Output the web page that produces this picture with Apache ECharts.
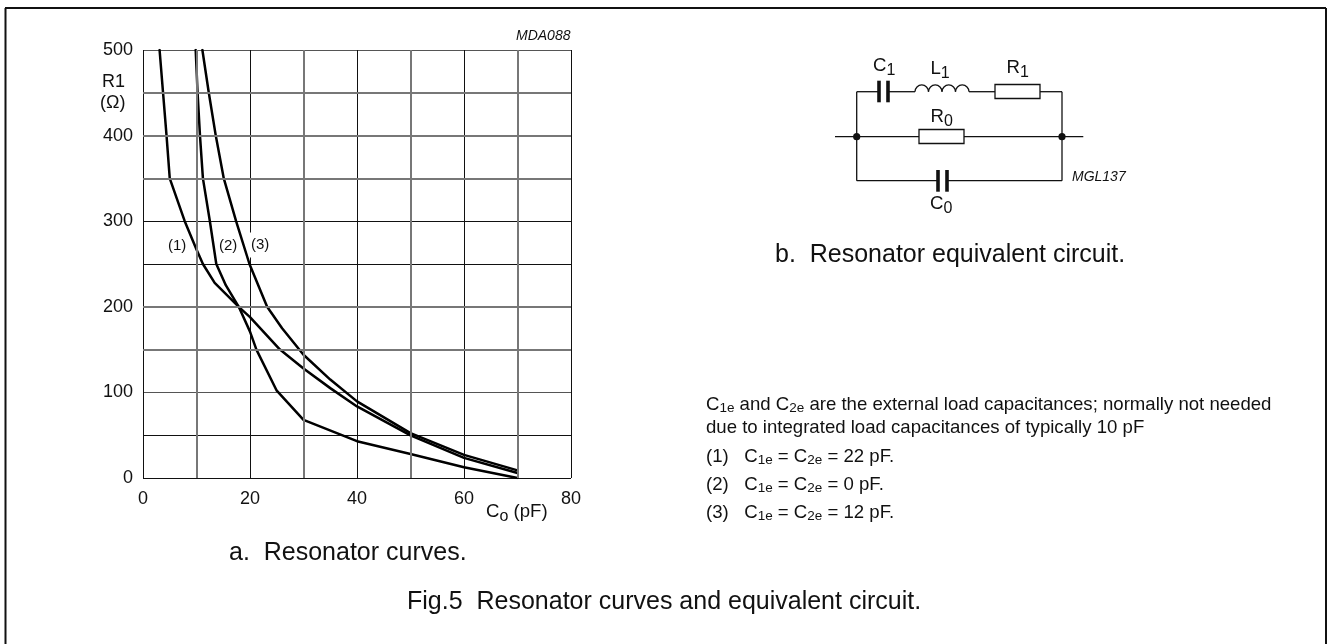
<!DOCTYPE html>
<html>
<head>
<meta charset="utf-8">
<style>
  html, body { margin: 0; padding: 0; background: #fff; }
  #chart { width: 1327px; height: 644px; }
</style>
</head>
<body>
<div id="chart"></div>
<script src="https://cdn.jsdelivr.net/npm/echarts@6/dist/echarts.min.js"></script>
<script>
// 曲线数据 [Co (pF), R1 (Ω)]
const curve1 = [[3.1, 500], [3.75, 450], [4.4, 400], [5, 350], [7.8, 300], [10, 267], [11.2, 250], [13.4, 228], [17.9, 200], [20, 188], [25.6, 150], [30, 128], [35, 105], [40, 83.6], [50, 49.7], [60, 23.5], [70, 5.8]]
const curve2 = [[9.85, 500], [10.2, 450], [10.65, 400], [11.2, 350], [12.5, 300], [13.7, 250], [15.5, 225], [17.9, 200], [20, 171], [21.2, 150], [25, 102], [30, 68], [40, 43], [50, 28], [60, 12.5], [70, 0]]
const curve3 = [[11.1, 500], [12.3, 450], [13.6, 400], [15.1, 350], [17.4, 300], [19.9, 250], [23.2, 200], [26, 175], [30, 144], [35, 115], [40, 89.5], [50, 52.5], [60, 27], [70, 8.9]]

const xTickLabels = [0, 20, 40, 60, 80]
const yTickLabels = [0, 100, 200, 300, 400, 500]
// 粗灰网格线
const grayX = [10, 30, 50, 70]
const grayY = [150, 200, 350, 400, 450]

const font = '"Liberation Sans", Arial, sans-serif'

const myChart = echarts.init(document.getElementById('chart'), null, { renderer: 'canvas' })

const rich = {
  n: { fontFamily: font, fontSize: 18.6, color: '#111', lineHeight: 20 },
  s: { fontFamily: font, fontSize: 13.5, color: '#111', lineHeight: 14, padding: [6, 0, 0, 0] },
  N: { fontFamily: font, fontSize: 18.6, color: '#111', lineHeight: 20 },
  S: { fontFamily: font, fontSize: 16, color: '#111', lineHeight: 18, padding: [10, 0, 0, 0] }
}

const line = (x1, y1, x2, y2, w = 1.3) => ({
  type: 'line', z: 10, silent: true,
  shape: { x1, y1, x2, y2 },
  style: { stroke: '#111', lineWidth: w }
})
const box = (x, y, width, height) => ({
  type: 'rect', z: 10, silent: true,
  shape: { x, y, width, height },
  style: { fill: '#fff', stroke: '#111', lineWidth: 1.3 }
})
const dot = (cx, cy) => ({
  type: 'circle', z: 11, silent: true,
  shape: { cx, cy, r: 3.6 },
  style: { fill: '#111' }
})
const coil = (cx) => ({
  type: 'arc', z: 10, silent: true,
  shape: { cx, cy: 91.7, r: 6.75, startAngle: Math.PI, endAngle: Math.PI * 2 },
  style: { stroke: '#111', fill: 'none', lineWidth: 1.3 }
})
const label = (x, y, text, size = 18, extra = {}) => ({
  type: 'text', z: 12, silent: true, x, y,
  style: Object.assign({ text, fontFamily: font, fontSize: size, fill: '#111', verticalAlign: 'middle', rich }, extra)
})

const graphicElements = [
  // 外框
  line(5, 8, 1326, 8, 2), line(5.5, 8, 5.5, 644, 2), line(1326, 8, 1326, 644, 2),
  // 坐标轴标题
  label(102, 82, 'R1', 18),
  label(100, 103, '(Ω)', 18),
  label(486, 512, '{N|C}{S|o}{N| (pF)}'),
  label(516, 36, 'MDA088', 14, { fontStyle: 'italic' }),
  label(168, 246, '(1)', 15),
  label(219, 246, '(2)', 15),
  label(250, 245, '(3)', 15, { backgroundColor: '#fff', padding: [5, 0, 5, 1] }),
  // 电路图
  line(856.7, 91.7, 856.7, 180.7), line(1062, 91.7, 1062, 180.7),
  line(856.7, 91.7, 880, 91.7), line(887, 91.7, 915, 91.7), line(969, 91.7, 995, 91.7), line(1040, 91.7, 1062, 91.7),
  line(835, 136.7, 1083.3, 136.7),
  line(856.7, 180.7, 938, 180.7), line(946, 180.7, 1062, 180.7),
  line(879, 80.7, 879, 102.3, 3.6), line(888, 80.7, 888, 102.3, 3.6),
  line(938, 170, 938, 191.7, 3.6), line(947, 170, 947, 191.7, 3.6),
  coil(921.75), coil(935.25), coil(948.75), coil(962.25),
  box(995, 84.5, 45, 14), box(919, 129.5, 45, 14),
  dot(856.7, 136.7), dot(1062, 136.7),
  label(873, 66, '{N|C}{S|1}'), label(930.5, 69, '{N|L}{S|1}'), label(1006.5, 68, '{N|R}{S|1}'),
  label(930.5, 117, '{N|R}{S|0}'), label(930, 204, '{N|C}{S|0}'),
  label(1072, 177, 'MGL137', 14, { fontStyle: 'italic' }),
  // 说明文字
  label(775, 255, 'b.  Resonator equivalent circuit.', 25),
  label(229, 553, 'a.  Resonator curves.', 25),
  label(407, 602, 'Fig.5  Resonator curves and equivalent circuit.', 25),
  label(706, 405, '{n|C}{s|1e}{n| and C}{s|2e}{n| are the external load capacitances; normally not needed}'),
  label(706, 428, 'due to integrated load capacitances of typically 10 pF', 18.6),
  label(706, 457, '{n|(1)   C}{s|1e}{n| = C}{s|2e}{n| = 22 pF.}'),
  label(706, 485, '{n|(2)   C}{s|1e}{n| = C}{s|2e}{n| = 0 pF.}'),
  label(706, 513, '{n|(3)   C}{s|1e}{n| = C}{s|2e}{n| = 12 pF.}')
]

const curveSeries = (data) => ({
  type: 'line', data, z: 3, showSymbol: false, symbol: 'none', silent: true,
  lineStyle: { color: '#000', width: 2.5, cap: 'round', join: 'round' }
})

const option = {
  animation: false,
  backgroundColor: '#fff',
  grid: { left: 143, right: 756, top: 50, bottom: 166 },
  xAxis: {
    type: 'value', min: 0, max: 80, interval: 10,
    axisLine: { show: false },
    axisTick: { show: false },
    axisLabel: {
      margin: 12, color: '#111', fontFamily: font, fontSize: 18,
      formatter: (v) => (xTickLabels.includes(v) ? String(v) : '')
    },
    // 灰线由 markLine 画，这里隔一条透明
    splitLine: { show: true, lineStyle: { color: ['#111', 'transparent'], width: 1 } }
  },
  yAxis: {
    type: 'value', min: 0, max: 500, interval: 50,
    axisLine: { show: false },
    axisTick: { show: false },
    axisLabel: {
      margin: 10, color: '#111', fontFamily: font, fontSize: 18, padding: [5, 0, 0, 0],
      formatter: (v) => (yTickLabels.includes(v) ? String(v) : '')
    },
    splitLine: {
      show: true,
      lineStyle: { color: ['#111', '#111', '#555', 'transparent', 'transparent', '#111', '#111', 'transparent', 'transparent', 'transparent', '#555'], width: 1 }
    }
  },
  series: [
    {
      type: 'line', data: [], z: 2, silent: true,
      markLine: {
        silent: true, symbol: 'none', animation: false, label: { show: false },
        lineStyle: { color: '#777', width: 2, type: 'solid' },
        data: grayX.map((v) => ({ xAxis: v })).concat(grayY.map((v) => ({ yAxis: v })))
      }
    },
    curveSeries(curve1),
    curveSeries(curve2),
    curveSeries(curve3)
  ],
  graphic: { elements: graphicElements }
}

myChart.setOption(option)

window.addEventListener('resize', () => {
  myChart.resize()
})
</script>
</body>
</html>
